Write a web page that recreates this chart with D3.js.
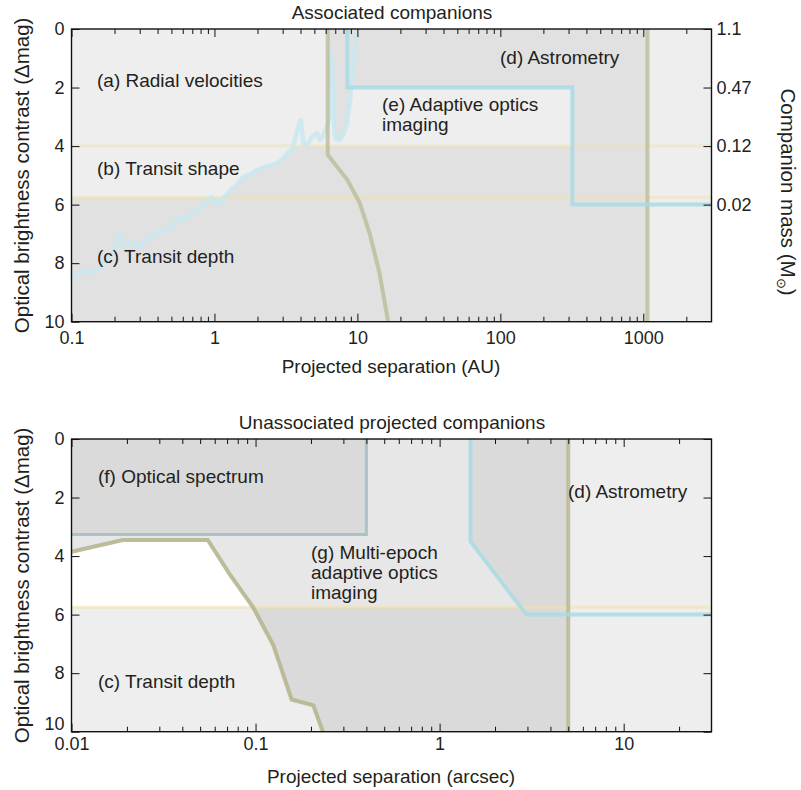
<!DOCTYPE html>
<meta charset="utf-8" />
<script src="https://d3js.org/d3.v7.min.js"></script>
<style>
    body { margin: 0; background: #fff; }
    text { font-family: 'Liberation Sans', Arial, Helvetica, sans-serif; fill: #231f20; }
</style>
<div id="my_dataviz"></div>

<script>
    // ---- data ----
    const auTicks = [0.1, 1, 10, 100, 1000]
    const arcsecTicks = [0.01, 0.1, 1, 10]
    const dmagTicks = [0, 2, 4, 6, 8, 10]
    const massTickDmag = [0, 2, 4, 6]
    const massLabels = ['1.1', '0.47', '0.12', '0.02']

    const transitShapeLimit = 4
    const transitDepthLimit = 5.75

    // (a) radial velocity sensitivity  [AU, Δmag]
    const rvCurve = [
        [0.1, 8.55], [0.11, 8.35], [0.12, 8.3], [0.142, 8.3], [0.158, 8.12], [0.175, 7.9],
        [0.186, 7.75], [0.2, 7.5], [0.213, 7.0], [0.23, 7.45], [0.263, 7.3], [0.3, 7.45],
        [0.33, 7.2], [0.354, 7.1], [0.416, 6.92], [0.488, 6.87], [0.53, 6.6], [0.56, 6.4],
        [0.606, 6.55], [0.69, 6.3], [0.79, 6.18], [0.88, 5.9], [0.95, 5.75], [1.05, 6.0],
        [1.15, 5.8], [1.3, 5.5], [1.45, 5.3], [1.59, 5.05], [1.8, 4.95], [1.98, 4.82],
        [2.3, 4.7], [2.7, 4.6], [3.0, 4.45], [3.2, 4.25], [3.5, 4.1], [3.75, 3.56],
        [4.0, 3.1], [4.2, 3.9], [4.4, 4.0], [4.8, 3.7], [5.2, 3.56], [5.5, 3.8],
        [5.7, 3.68], [6.0, 3.45], [6.4, 3.0], [6.6, 0.85], [6.8, 3.0], [7.0, 3.75],
        [7.5, 3.8], [7.9, 3.65], [8.4, 3.3], [8.9, 2.4], [9.3, 1.3], [9.9, 0.15]
    ]
    // olive limit, associated panel  [AU, Δmag]
    const oliveAU = [[6.2, 0], [6.2, 4.3], [8.5, 5.15], [10.4, 5.95], [12.2, 7.0], [14.3, 8.35], [16.4, 10]]
    // (e) adaptive optics  [AU, Δmag]
    const aoAU = [[8.5, 0], [8.5, 2], [319, 2], [319, 6], [3000, 6]]
    const astrometryAU = 1070

    // (f) optical spectrum box  [arcsec, Δmag]
    const spectrumBox = [0.4, 3.26]
    // olive limit, unassociated panel  [arcsec, Δmag]
    const oliveArcsec = [
        [0.01, 3.85], [0.019, 3.45], [0.055, 3.45], [0.072, 4.6], [0.097, 5.75],
        [0.125, 7.05], [0.157, 8.9], [0.206, 9.1], [0.232, 10]
    ]
    // (g) multi-epoch adaptive optics  [arcsec, Δmag]
    const aoArcsec = [[1.47, 0], [1.47, 3.5], [2.96, 6], [30, 6]]
    const astrometryArcsec = 5

    // ---- layout ----
    const width = 801, height = 790
    const plotLeft = 71.5, plotRight = 711.5
    const fontTick = 18, fontLabel = 19

    const light = '#eeeeee', dark = '#e1e1e1'
    const olive = '#b7b690', blue = '#a9dae4', yellow = '#f0e2a8'

    const svg = d3
        .select('#my_dataviz')
        .append('svg')
        .attr('width', width)
        .attr('height', height)
    const defs = svg.append('defs')

    const xTop = d3.scaleLog().domain([0.1, 3000]).range([plotLeft, plotRight])
    const yTop = d3.scaleLinear().domain([0, 10]).range([29, 321.7])
    const xBot = d3.scaleLog().domain([0.01, 30]).range([plotLeft, plotRight])
    const yBot = d3.scaleLinear().domain([0, 10]).range([439, 731.7])

    const lineOf = (x, y) => d3.line().x((d) => x(d[0])).y((d) => y(d[1]))
    const polyOf = (x, y) => (pts) => lineOf(x, y)(pts) + 'Z'

    // crossing of a curve with a horizontal level (log x interpolation)
    function cross(curve, level) {
        for (let i = 0; i < curve.length - 1; i++) {
            const a = curve[i], b = curve[i + 1]
            if ((a[1] - level) * (b[1] - level) <= 0 && a[1] !== b[1]) {
                const t = (level - a[1]) / (b[1] - a[1])
                const lx = Math.log10(a[0]) + t * (Math.log10(b[0]) - Math.log10(a[0]))
                return { i: i, pt: [Math.pow(10, lx), level] }
            }
        }
    }

    function addClip(id, d) {
        defs.append('clipPath').attr('id', id).append('path').attr('d', d)
    }

    function rectData(g, x, y, x0, x1, y0, y1, fill) {
        return g.append('rect')
            .attr('x', x(x0))
            .attr('y', y(y0))
            .attr('width', x(x1) - x(x0))
            .attr('height', y(y1) - y(y0))
            .attr('fill', fill)
    }

    function minorTicks(x) {
        const [a, b] = x.domain()
        const out = []
        for (let e = Math.floor(Math.log10(a)); e <= Math.ceil(Math.log10(b)); e++) {
            for (let n = 2; n <= 9; n++) {
                const v = n * Math.pow(10, e)
                if (v > a && v < b) out.push(v)
            }
        }
        return out
    }

    function drawAxes(g, x, y, majors, labelPad, rightAxis, lastLeftShift) {
        const [y0, y1] = y.range()
        const styleAxis = (sel) => {
            sel.select('.domain').remove()
            sel.selectAll('line').attr('stroke', '#111').attr('stroke-width', 1)
            sel.attr('font-size', fontTick).attr('font-family', null)
            sel.selectAll('text').attr('fill', '#231f20')
        }
        // minor ticks bottom / top
        g.append('g').attr('transform', `translate(0,${y1})`)
            .call(d3.axisBottom(x).tickValues(minorTicks(x)).tickSize(-5).tickFormat(''))
            .call(styleAxis)
        g.append('g').attr('transform', `translate(0,${y0})`)
            .call(d3.axisTop(x).tickValues(minorTicks(x)).tickSize(-5).tickFormat(''))
            .call(styleAxis)
        // major ticks
        g.append('g').attr('transform', `translate(0,${y1})`)
            .call(d3.axisBottom(x).tickValues(majors).tickSize(-8).tickPadding(labelPad).tickFormat((d) => String(d)))
            .call(styleAxis)
        g.append('g').attr('transform', `translate(0,${y0})`)
            .call(d3.axisTop(x).tickValues(majors).tickSize(-8).tickFormat(''))
            .call(styleAxis)
        const leftAxis = g.append('g').attr('transform', `translate(${plotLeft},0)`)
            .call(d3.axisLeft(y).tickValues(dmagTicks).tickSize(-8).tickPadding(7))
            .call(styleAxis)
        // nudge the last label up so it clears the first x label
        leftAxis.selectAll('text')
            .filter((d) => d === dmagTicks[dmagTicks.length - 1])
            .attr('y', -lastLeftShift)
        g.append('g').attr('transform', `translate(${plotRight},0)`)
            .call(rightAxis)
            .call(styleAxis)
        // frame
        g.append('rect')
            .attr('x', plotLeft).attr('y', y0)
            .attr('width', plotRight - plotLeft).attr('height', y1 - y0)
            .attr('fill', 'none').attr('stroke', '#111').attr('stroke-width', 1.4)
    }

    function label(lines, x, y, opts = {}) {
        const t = svg.append('text')
            .attr('x', x).attr('y', y)
            .attr('font-size', opts.size || fontLabel)
            .attr('text-anchor', opts.anchor || 'start')
        lines.forEach((s, i) => {
            t.append('tspan').attr('x', x).attr('dy', i === 0 ? 0 : 20).text(s)
        })
        return t
    }

    // =========== top panel : associated companions ===========
    const topPanel = svg.append('g')
    const pTop = polyOf(xTop, yTop)

    const rvAbove = rvCurve.concat([[rvCurve[rvCurve.length - 1][0], 0], [0.1, 0]])
    const leftOfOlive = oliveAU.concat([[0.1, 10], [0.1, 0]])
    const rightOfOlive = oliveAU.concat([[3000, 10], [3000, 0]])
    addClip('clipRvAbove', pTop(rvAbove))
    addClip('clipLeftOlive', pTop(leftOfOlive))
    addClip('clipRightOlive', pTop(rightOfOlive))

    rectData(topPanel, xTop, yTop, 0.1, 3000, 0, 10, dark)
    // (e) lighter box under the AO limit
    rectData(topPanel, xTop, yTop, oliveAU[0][0], aoAU[2][0], aoAU[1][1], transitShapeLimit, light)
    topPanel.append('path')
        .attr('d', pTop(rvAbove))
        .attr('fill', dark)
        .attr('clip-path', 'url(#clipRightOlive)')
    // (a) and the part of (b) above the RV curve
    const gA = topPanel.append('g').attr('clip-path', 'url(#clipLeftOlive)')
    rectData(gA, xTop, yTop, 0.1, 3000, 0, transitShapeLimit, light)
    rectData(gA, xTop, yTop, 0.1, 3000, 0, transitDepthLimit, light)
        .attr('clip-path', 'url(#clipRvAbove)')
    // beyond astrometry limit
    rectData(topPanel, xTop, yTop, astrometryAU, 3000, 0, 10, light)

    // transit limits
    ;[transitShapeLimit, transitDepthLimit].forEach((v) => {
        topPanel.append('path')
            .attr('d', lineOf(xTop, yTop)([[0.1, v], [3000, v]]))
            .attr('stroke', yellow).attr('stroke-opacity', 0.5)
            .attr('stroke-width', 3).attr('fill', 'none')
    })
    // RV curve
    topPanel.append('path')
        .attr('d', lineOf(xTop, yTop)(rvCurve))
        .attr('fill', 'none')
        .attr('stroke', '#c8e8f0')
        .attr('stroke-width', 4.5)
        .attr('stroke-linejoin', 'round')
        .attr('stroke-opacity', 0.85)
    // olive limits
    topPanel.append('path')
        .attr('d', lineOf(xTop, yTop)(oliveAU))
        .attr('fill', 'none').attr('stroke', olive)
        .attr('stroke-width', 4).attr('stroke-opacity', 0.7)
    topPanel.append('path')
        .attr('d', lineOf(xTop, yTop)([[astrometryAU, 0], [astrometryAU, 10]]))
        .attr('fill', 'none').attr('stroke', olive)
        .attr('stroke-width', 4).attr('stroke-opacity', 0.7)
    // AO limit
    topPanel.append('path')
        .attr('d', lineOf(xTop, yTop)(aoAU))
        .attr('fill', 'none').attr('stroke', blue)
        .attr('stroke-width', 4).attr('stroke-opacity', 0.85)

    drawAxes(topPanel, xTop, yTop, auTicks, 9.5,
        d3.axisRight(yTop).tickValues(massTickDmag).tickSize(-8).tickPadding(5)
            .tickFormat((d, i) => massLabels[i]), 0)

    // =========== bottom panel : unassociated projected companions ===========
    const botPanel = svg.append('g')
    const pBot = polyOf(xBot, yBot)
    const oc = cross(oliveArcsec, transitDepthLimit)
    const ac = cross(aoArcsec, transitDepthLimit)

    rectData(botPanel, xBot, yBot, 0.01, 30, 0, 10, '#e7e7e7')
    // dark: right of AO limit, and below transit depth right of olive
    botPanel.append('path')
        .attr('d', pBot([aoArcsec[0], aoArcsec[1], ac.pt, [astrometryArcsec, transitDepthLimit], [astrometryArcsec, 0]]))
        .attr('fill', '#dadada')
    botPanel.append('path')
        .attr('d', pBot([oc.pt].concat(oliveArcsec.slice(oc.i + 1), [[astrometryArcsec, 10], [astrometryArcsec, transitDepthLimit]])))
        .attr('fill', '#dadada')
    // white pocket left of olive, above transit depth
    botPanel.append('path')
        .attr('d', pBot(oliveArcsec.slice(0, oc.i + 1).concat([oc.pt, [0.01, transitDepthLimit]])))
        .attr('fill', '#ffffff')
    // (c) transit depth
    botPanel.append('path')
        .attr('d', pBot([[0.01, transitDepthLimit], oc.pt].concat(oliveArcsec.slice(oc.i + 1), [[0.01, 10]])))
        .attr('fill', light)
    // (f) optical spectrum box
    rectData(botPanel, xBot, yBot, 0.01, spectrumBox[0], 0, spectrumBox[1], '#dadada')
    // beyond astrometry limit
    rectData(botPanel, xBot, yBot, astrometryArcsec, 30, 0, 10, light)

    botPanel.append('path')
        .attr('d', lineOf(xBot, yBot)([[0.01, transitDepthLimit], [30, transitDepthLimit]]))
        .attr('stroke', yellow).attr('stroke-opacity', 0.55)
        .attr('stroke-width', 3).attr('fill', 'none')
    botPanel.append('path')
        .attr('d', lineOf(xBot, yBot)([[0.01, spectrumBox[1]], [spectrumBox[0], spectrumBox[1]], [spectrumBox[0], 0]]))
        .attr('fill', 'none').attr('stroke', '#abc3c6').attr('stroke-width', 3)
    botPanel.append('path')
        .attr('d', lineOf(xBot, yBot)(oliveArcsec))
        .attr('fill', 'none').attr('stroke', olive)
        .attr('stroke-width', 4).attr('stroke-opacity', 0.9)
    botPanel.append('path')
        .attr('d', lineOf(xBot, yBot)([[astrometryArcsec, 0], [astrometryArcsec, 10]]))
        .attr('fill', 'none').attr('stroke', olive)
        .attr('stroke-width', 4).attr('stroke-opacity', 0.8)
    botPanel.append('path')
        .attr('d', lineOf(xBot, yBot)(aoArcsec))
        .attr('fill', 'none').attr('stroke', blue)
        .attr('stroke-width', 4).attr('stroke-opacity', 0.85)

    drawAxes(botPanel, xBot, yBot, arcsecTicks, 6,
        d3.axisRight(yBot).tickValues(dmagTicks).tickSize(-8).tickFormat(''), 7.5)

    // ---- titles & labels ----
    label(['Associated companions'], 392, 18.5, { anchor: 'middle' })
    label(['Unassociated projected companions'], 392, 428.5, { anchor: 'middle' })
    label(['Projected separation (AU)'], 391, 372.5, { anchor: 'middle' })
    label(['Projected separation (arcsec)'], 391, 783, { anchor: 'middle' })

    ;[175.4, 585.4].forEach((cy) => {
        svg.append('text')
            .attr('transform', `translate(29,${cy}) rotate(-90)`)
            .attr('text-anchor', 'middle')
            .attr('font-size', 20.5)
            .text('Optical brightness contrast (Δmag)')
    })
    const mass = svg.append('text')
        .attr('transform', 'translate(781,192) rotate(90)')
        .attr('text-anchor', 'middle')
        .attr('font-size', 20.5)
    mass.append('tspan').text('Companion mass (M')
    mass.append('tspan').attr('font-size', 13).attr('dy', 4).text('⊙')
    mass.append('tspan').attr('dy', -4).text(')')

    label(['(a) Radial velocities'], 97, 87)
    label(['(b) Transit shape'], 97, 175)
    label(['(c) Transit depth'], 97, 263)
    label(['(d) Astrometry'], 500, 64)
    label(['(e) Adaptive optics', 'imaging'], 382, 111)

    label(['(f) Optical spectrum'], 98, 483)
    label(['(g) Multi-epoch', 'adaptive optics', 'imaging'], 311, 559)
    label(['(c) Transit depth'], 98, 688)
    label(['(d) Astrometry'], 568, 498)
</script>
